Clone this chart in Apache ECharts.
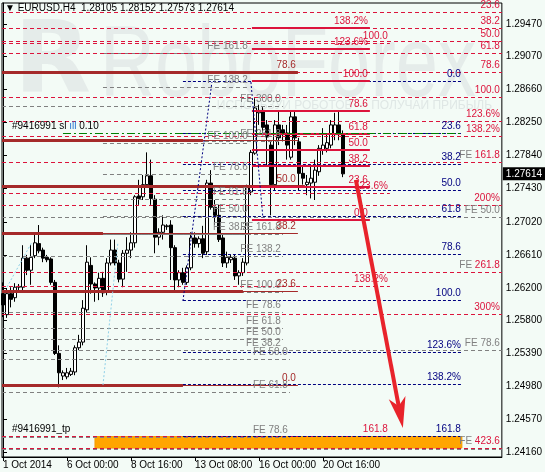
<!DOCTYPE html>
<html><head><meta charset="utf-8">
<script src="https://cdn.jsdelivr.net/npm/echarts@6/dist/echarts.min.js"></script>
<style>html,body{margin:0;padding:0;background:#f3fbf6}#c{width:545px;height:472px}</style>
</head><body><div id="c"></div>
<script>
// ---------------- data ----------------
const symbol = 'EURUSD,H4';
const timeLabels = ['1 Oct 2014','6 Oct 00:00','8 Oct 16:00','13 Oct 08:00','16 Oct 00:00','20 Oct 16:00'];
const timeLabelBars = [0,16,32,48,64,80];
const priceTicks = [1.29470,1.29070,1.28660,1.28250,1.27840,1.27430,1.27020,1.26610,1.26200,1.25800,1.25390,1.24980,1.24570,1.24160];
// [open, close, low, high] per H4 bar
const candles = [
[1.2613,1.2599,1.2584,1.2627],[1.2587,1.2613,1.2583,1.2620],[1.2613,1.2606,1.2596,1.2621],[1.2608,1.2621,1.2603,1.2626],
[1.2621,1.2622,1.2617,1.2625],[1.2621,1.2657,1.2617,1.2673],[1.2657,1.2642,1.2636,1.2661],[1.2642,1.2658,1.2624,1.2673],
[1.2660,1.2676,1.2657,1.2686],[1.2675,1.2666,1.2663,1.2698],[1.2667,1.2657,1.2652,1.2670],[1.2658,1.2655,1.2652,1.2661],
[1.2656,1.2627,1.2624,1.2658],[1.2627,1.2539,1.2537,1.2630],[1.2539,1.2515,1.2497,1.2549],[1.2511,1.2515,1.2506,1.2518],
[1.2510,1.2515,1.2507,1.2521],[1.2513,1.2517,1.2511,1.2521],[1.2516,1.2546,1.2512,1.2549],[1.2546,1.2553,1.2543,1.2562],
[1.2553,1.2595,1.2549,1.2605],[1.2593,1.2652,1.2590,1.2673],[1.2648,1.2625,1.2613,1.2658],[1.2625,1.2620,1.2603,1.2627],
[1.2620,1.2632,1.2605,1.2639],[1.2632,1.2614,1.2609,1.2640],[1.2615,1.2651,1.2611,1.2657],[1.2651,1.2667,1.2648,1.2680],
[1.2667,1.2651,1.2648,1.2680],[1.2651,1.2631,1.2627,1.2655],[1.2631,1.2663,1.2621,1.2667],[1.2663,1.2667,1.2640,1.2683],
[1.2667,1.2676,1.2657,1.2689],[1.2676,1.2733,1.2670,1.2735],[1.2734,1.2731,1.2723,1.2754],[1.2733,1.2748,1.2729,1.2760],
[1.2748,1.2759,1.2744,1.2788],[1.2759,1.2731,1.2723,1.2779],[1.2730,1.2683,1.2663,1.2735],[1.2683,1.2689,1.2673,1.2694],
[1.2689,1.2698,1.2680,1.2710],[1.2696,1.2697,1.2692,1.2699],[1.2698,1.2670,1.2630,1.2704],[1.2670,1.2630,1.2617,1.2673],
[1.2630,1.2639,1.2621,1.2642],[1.2639,1.2627,1.2624,1.2645],[1.2627,1.2645,1.2624,1.2648],[1.2645,1.2682,1.2642,1.2689],
[1.2682,1.2675,1.2670,1.2689],[1.2675,1.2681,1.2670,1.2684],[1.2681,1.2663,1.2657,1.2697],[1.2665,1.2750,1.2661,1.2754],
[1.2750,1.2720,1.2717,1.2766],[1.2720,1.2710,1.2698,1.2729],[1.2710,1.2680,1.2677,1.2723],[1.2682,1.2651,1.2646,1.2686],
[1.2651,1.2658,1.2645,1.2665],[1.2655,1.2658,1.2651,1.2661],[1.2657,1.2635,1.2630,1.2661],[1.2635,1.2639,1.2624,1.2642],
[1.2639,1.2652,1.2635,1.2657],[1.2651,1.2745,1.2648,1.2748],[1.2739,1.2788,1.2735,1.2791],[1.2787,1.2843,1.2785,1.2855],
[1.2837,1.2840,1.2822,1.2847],[1.2840,1.2819,1.2810,1.2844],[1.2822,1.2807,1.2772,1.2828],[1.2797,1.2748,1.2710,1.2803],
[1.2748,1.2822,1.2741,1.2828],[1.2822,1.2806,1.2797,1.2838],[1.2816,1.2810,1.2803,1.2822],[1.2812,1.2797,1.2779,1.2822],
[1.2782,1.2832,1.2779,1.2838],[1.2832,1.2806,1.2797,1.2840],[1.2801,1.2762,1.2741,1.2806],[1.2762,1.2756,1.2748,1.2772],
[1.2748,1.2751,1.2735,1.2760],[1.2750,1.2756,1.2731,1.2772],[1.2751,1.2766,1.2729,1.2779],[1.2764,1.2793,1.2759,1.2797],
[1.2791,1.2797,1.2785,1.2818],[1.2793,1.2800,1.2788,1.2810],[1.2797,1.2822,1.2793,1.2828],[1.2810,1.2822,1.2803,1.2837],
[1.2822,1.2810,1.2803,1.2838],[1.28105,1.27614,1.27573,1.28152]
];
// Fibonacci retracement A (crimson dashed, whole width)
const aLevels = ['23.6','38.2','50.0','61.8','78.6','100.0'];
const aPrices = [1.29619,1.29420,1.29259,1.29111,1.28875,1.28566];
// Fibonacci expansion B (crimson dashed, whole width)
const bLevels = ['123.6%','138.2%','161.8','200%','261.8','300%','423.6'];
const bPrices = [1.28269,1.28083,1.27761,1.27228,1.26398,1.25878,1.24218];
// Fibonacci C (crimson solid, 15-21 Oct)
const cLevels = ['0.0','23.6','38.2','50.0','61.8','78.6','100.0','123.6%','138.2%'];
const cPrices = [1.27042,1.27451,1.27711,1.27909,1.28108,1.28392,1.28764,1.29160,1.29420];
// Fibonacci D (crimson dashed)
const dLevels = ['100.0','123.6%','138.2%','161.8'];
const dPrices = [1.29235,1.27377,1.26225,1.24367];
// Fibonacci E (navy dashed)
const eLevels = ['0.0','23.6','38.2','50.0','61.8','78.6','100.0','123.6%','138.2%','161.8'];
const ePrices = [1.28758,1.28120,1.27727,1.27405,1.27083,1.26617,1.26043,1.25407,1.25011,1.24367];
// Fibo expansions (gray)
const f1Levels = ['FE 161.8','FE 138.2','FE 100.0','FE 78.6','FE 61.8','FE 50.0','FE 38.2'];
const f1Prices = [1.29111,1.28689,1.27996,1.27612,1.27302,1.27092,1.26869];
const f2Levels = ['FE 300.0','FE 261.8','FE 161.8','FE 138.2','FE 100.0','FE 78.6','FE 61.8','FE 50.0','FE 38.2'];
const f2Prices = [1.28454,1.28021,1.26869,1.26596,1.26150,1.25903,1.25704,1.25568,1.25432];
const f3Levels = ['FE 50.0','FE 61.8','FE 78.6'];
const f3Prices = [1.25320,1.24912,1.24354];
const f4Levels = ['FE 38.2','FE 50.0','FE 61.8','FE 78.6','FE 100.0'];
const f4Prices = [1.27761,1.27079,1.26398,1.25432,1.24206];
// Fibonacci G (dark red, thick)
const gLevels = ['78.6','61.8','50.0','38.2','23.6','0.0'];
const gPrices = [1.28875,1.28033,1.27463,1.26881,1.26163,1.24998];
// order lines
const slPrice = 1.28120, slLots = '0.10', orderId = '#9416991';
const tpTop = 1.24360, tpBottom = 1.24218;
// trend / arrow anchors [bar, price]
const lightBlue1 = [[1,1.26212],[7.25,1.26770]];
const lightBlue2 = [[25,1.24998],[28.75,1.26770]];
const navyDiag1 = [[45,1.26039],[52.25,1.28751]];
const navyDiag2 = [[62,1.28751],[65,1.27067]];
const arrowFrom = [88.25,1.27538];
const arrowTip = [100,1.24466];

// ---------------- layout / style ----------------
const FONT = 'Liberation Sans';
const CR='#dc143c', NV='#000080', GR='#808080', BR='#a52a2a';
const X0=-0.25, X1=124.75;
const ext = {c:[62.25,91.75], d:[X0,96.75], e:[45,115], f1:[25,61.75], f2:[X0,70], f3:[X0,71.75], g:[X0,73.75]};
const gThickEnd = [73.75,50,75.5,25,60,45];
const gHide = [false,true,false,false,false,false];
const bWithFE = [false,false,true,false,true,false,true];
const f4Show = [false,true,false,true,false];

const last = candles[candles.length-1];
const lastPrice = last[1];

function lab(text,color,extra){
  return Object.assign({show:!!text, position:'insideEndTop', formatter:text||'', color:color, fontSize:10, fontFamily:FONT, distance:2}, extra||{});
}
function hline(x1,x2,p,ls,text,color,extra){
  return [{coord:[x1,p], lineStyle:ls, label:lab(text,color,extra)},{coord:[x2,p]}];
}
function seg(pts,ls){ return [{coord:pts[0], lineStyle:ls, label:{show:false}},{coord:pts[1]}]; }
function ml(name,data,z){
  return {type:'line', name:name, data:[], z:z, silent:true, animation:false,
    markLine:{silent:true, animation:false, symbol:['none','none'], precision:5, data:data}};
}
const dashCR={color:CR,type:[4,3],width:1};
const dashGR={color:GR,type:[4,3],width:1};
const dashNV={color:NV,type:[3,2],width:1};
const hidden={color:'rgba(0,0,0,0)',width:1};

const series = [];
series.push({type:'candlestick', name:symbol, data:candles.map((c,i)=>[i,c[0],c[1],c[2],c[3]]),
  encode:{x:0,y:[1,2,3,4]}, barWidth:3, z:3, animation:false,
  itemStyle:{color:'#ffffff',color0:'#000000',borderColor:'#000000',borderColor0:'#000000',borderWidth:1}
});
// TP zone
series.push({type:'line', name:'tp', data:[], z:1, silent:true,
  markArea:{silent:true, data:[[{coord:[23,tpTop], itemStyle:{color:'#ffa500', borderColor:'#f39c00', borderWidth:1}},{coord:[114.75,tpBottom]}]]}});
// gray FE
series.push(ml('f4', f4Prices.map((p,i)=>hline(X0,X1,p,dashGR,f4Show[i]?f4Levels[i]:'',GR)),4));
series.push(ml('f3', f3Prices.map((p,i)=>hline(ext.f3[0],ext.f3[1],p,dashGR,f3Levels[i],GR)),4));
series.push(ml('f2', f2Prices.map((p,i)=>hline(ext.f2[0],ext.f2[1],p,dashGR,f2Levels[i],GR)),4));
series.push(ml('f1', f1Prices.map((p,i)=>hline(ext.f1[0],ext.f1[1],p,dashGR,f1Levels[i],GR)),4));
// crimson dashed
series.push(ml('a', aPrices.map((p,i)=>hline(X0,X1,p,dashCR,aLevels[i],CR)),5));
series.push(ml('b', bPrices.map((p,i)=>hline(X0,X1,p,dashCR,bWithFE[i]?('{g|FE }{r|'+bLevels[i]+'}'):bLevels[i],CR,
  {rich:{g:{color:GR,fontSize:10,fontFamily:FONT},r:{color:CR,fontSize:10,fontFamily:FONT}}})),5));
series.push(ml('d', dPrices.map((p,i)=>hline(ext.d[0],ext.d[1],p,dashCR,dLevels[i],CR)),5));
// navy
series.push(ml('e', ePrices.map((p,i)=>hline(ext.e[0],ext.e[1],p,dashNV,eLevels[i],NV)),6));
// dark red G
const gData = [];
gPrices.forEach((p,i)=>{
  gData.push(hline(ext.g[0],ext.g[1],p,{color:BR,type:'solid',width:1},gHide[i]?'':gLevels[i],BR));
  gData.push(hline(ext.g[0],gThickEnd[i],p,{color:BR,type:'solid',width:3},'',BR));
});
series.push(ml('g', gData, 6));
// crimson solid C
series.push(ml('c', cPrices.map((p,i)=>hline(ext.c[0],ext.c[1],p,{color:CR,type:'solid',width:2},cLevels[i],CR)),7));
// diagonals
series.push(ml('diag', [
  seg(lightBlue1,{color:'#8fd0e8',type:[2,2],width:1}),
  seg(lightBlue2,{color:'#8fd0e8',type:[2,2],width:1}),
  seg(navyDiag1,{color:NV,type:[2,2],width:1}),
  seg(navyDiag2,{color:NV,type:[2,2],width:1})
],7));
// SL / TP order lines
series.push(ml('sl', [
  hline(15,115,slPrice,{color:'#008000',type:[8,3,2,3],width:1},'',CR),
  [{coord:[1.75,slPrice], lineStyle:hidden, label:{show:true, position:'insideStartTop', distance:2,
     formatter:'{k|'+orderId+' sl}{b| ıll }{k|'+slLots+'}', rich:{k:{color:'#000',fontSize:10,fontFamily:FONT},b:{color:'#1e6fd0',fontSize:10,fontFamily:FONT}}}},{coord:[14,slPrice]}],
  [{coord:[1.75,tpTop], lineStyle:hidden, label:{show:true, position:'insideStartTop', distance:2,
     formatter:orderId+'_tp', color:'#000', fontSize:10, fontFamily:FONT}},{coord:[22,tpTop]}]
],8));
// current price tag on the price scale
series.push(ml('bid', [
  [{coord:[X0,lastPrice], lineStyle:hidden, label:{show:true, position:'end', distance:1, formatter:lastPrice.toFixed(5),
     backgroundColor:'#000', color:'#fff', fontSize:10, fontFamily:FONT, padding:[2,3,1,3]}},{coord:[X1,lastPrice]}]
],10));
// red arrow (custom: shaft + notched head)
series.push({type:'custom', name:'arrow', z:9, silent:true, animation:false,
  data:[[arrowFrom[0],arrowFrom[1],arrowTip[0],arrowTip[1]]],
  encode:{x:[0,2], y:[1,3]},
  renderItem:function(params, api){
    const a = api.coord([api.value(0), api.value(1)]);
    const b = api.coord([api.value(2), api.value(3)]);
    const dx=b[0]-a[0], dy=b[1]-a[1], L=Math.sqrt(dx*dx+dy*dy);
    const ux=dx/L, uy=dy/L, px=-uy, py=ux;
    const HL=31, HW=8.5;
    const base=[b[0]-ux*HL, b[1]-uy*HL];
    const notch=[b[0]-ux*HL*0.72, b[1]-uy*HL*0.72];
    return {type:'group', children:[
      {type:'line', shape:{x1:a[0],y1:a[1],x2:notch[0]+ux*2,y2:notch[1]+uy*2}, style:{stroke:'#e8232b', lineWidth:4}},
      {type:'polygon', shape:{points:[b,[base[0]+px*HW,base[1]+py*HW],notch,[base[0]-px*HW,base[1]-py*HW]]}, style:{fill:'#e8232b'}}
    ]};
  }
});

const option = {
  backgroundColor:'#f3fbf6',
  animation:false,
  title:{text:'▼ '+symbol+'  '+[last[0],last[3],last[2],last[1]].map(v=>v.toFixed(5)).join(' '),
    left:5, top:3, padding:0, textStyle:{fontSize:10, fontWeight:'normal', color:'#000', fontFamily:FONT}},
  grid:{left:2, right:43, top:3, bottom:15, show:true, borderColor:'#000', borderWidth:1, backgroundColor:'transparent'},
  graphic:[
    {type:'text', x:14, y:16, z:-10, silent:true, style:{text:'R', font:'bold 100px "DejaVu Sans"', fill:'#e5ecea'}},
    {type:'text', x:100, y:18, scaleX:0.76, z:-10, silent:true, style:{text:'RoboForex', font:'100px "Liberation Sans"', fill:'#e5ecea'}},
    {type:'text', x:492, y:100, z:-10, silent:true, style:{text:'ИСПОЛЬЗУЙ РОБОТОВ — ПОЛУЧАЙ ПРИБЫЛЬ', font:'12px "Liberation Sans"', fill:'#dfe7e5', align:'right'}}
  ],
  xAxis:{type:'value', min:X0, max:X1, splitLine:{show:false},
    axisLine:{show:true, lineStyle:{color:'#000'}},
    axisTick:{show:true, length:4, customValues:timeLabelBars, lineStyle:{color:'#000'}},
    axisLabel:{customValues:timeLabelBars, align:'left', margin:3, fontSize:10, fontFamily:FONT, color:'#000',
      formatter:v=>{const k=timeLabelBars.indexOf(Math.round(v)); return k>=0?timeLabels[k]:'';}}},
  yAxis:{type:'value', position:'right', min:1.24107, max:1.29730, scale:true, splitLine:{show:false},
    axisLine:{show:true, lineStyle:{color:'#000'}},
    axisTick:{show:true, length:4, customValues:priceTicks, lineStyle:{color:'#000'}},
    axisLabel:{customValues:priceTicks, margin:4, fontSize:10, fontFamily:FONT, color:'#000', formatter:v=>v.toFixed(5)}},
  series:series
};
const chart = echarts.init(document.getElementById('c'), null, {renderer:'canvas'});
chart.setOption(option);
</script></body></html>
